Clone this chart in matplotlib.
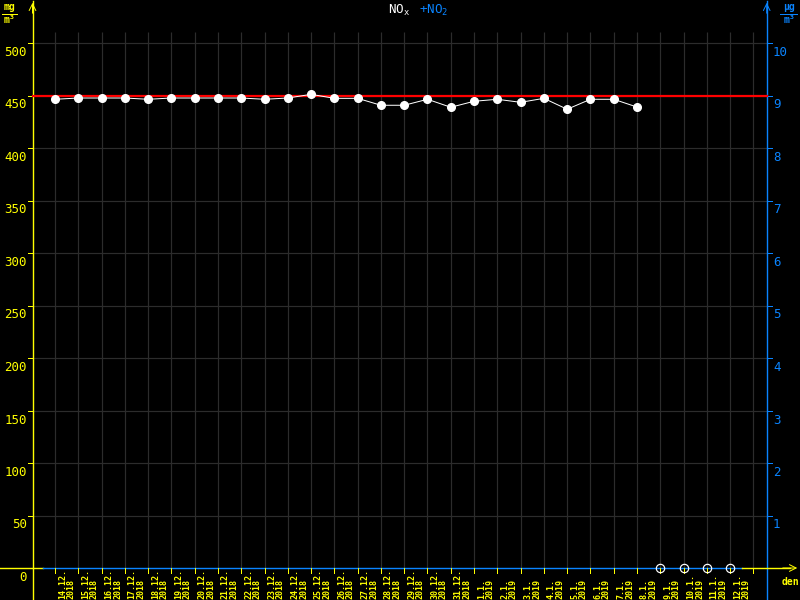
import matplotlib
matplotlib.use("Agg")
import matplotlib.pyplot as plt

# day labels (each label sits in the middle of its day interval)
days = ["14.12.", "15.12.", "16.12.", "17.12.", "18.12.", "19.12.", "20.12.",
        "21.12.", "22.12.", "23.12.", "24.12.", "25.12.", "26.12.", "27.12.",
        "28.12.", "29.12.", "30.12.", "31.12.", "1.1.", "2.1.", "3.1.", "4.1.",
        "5.1.", "6.1.", "7.1.", "8.1.", "9.1.", "10.1.", "11.1.", "12.1."]
years = ["2018"] * 18 + ["2019"] * 12

# daily NOx means (mg/m3), None = no data
nox = [446.4, 447.6, 447.6, 447.6, 446.4, 447.6, 447.6, 447.6, 447.6, 446.4,
       447.6, 451.1, 447.3, 447.3, 440.7, 440.7, 446.4, 438.8, 444.5, 446.4,
       443.5, 447.3, 436.9, 446.4, 446.4, 439.0, None, None, None, None]
nox_limit = 450

left_ticks = [0, 50, 100, 150, 200, 250, 300, 350, 400, 450, 500]
right_ticks = [1, 2, 3, 4, 5, 6, 7, 8, 9, 10]

YEL = "#ffff00"
BLUE = "#0a84ff"
GRID = "#2c2c2c"
MONO = "DejaVu Sans Mono"
PX = 0.72  # one pixel in points at dpi 100

# pixel helpers (figure is 800x600, origin top-left)
X0, DX = 55.0, 23.28
Y0, DY = 568.0, 1.05


def px_x(p):
    return (p - X0) / DX


def px_y(p):
    return (Y0 - p) / DY


fig = plt.figure(figsize=(8, 6), dpi=100, facecolor="black")
ax = fig.add_axes([0, 0, 1, 1])
ax.set_facecolor("black")
ax.set_xlim(px_x(0), px_x(800))
ax.set_ylim(px_y(600), px_y(0))
ax.axis("off")

xa = px_x(32.5)
xr = px_x(766.7)
ytop = px_y(32)

# grid
n = len(days)
ax.vlines(range(n + 1), 0, ytop, color=GRID, lw=PX * 1.2, zorder=1)
ax.hlines(left_ticks[1:], xa, xr, color=GRID, lw=PX * 1.2, zorder=1)

# axes lines
ax.plot([xa, xa], [px_y(600), px_y(1)], color=YEL, lw=PX * 1.4, zorder=3)
ax.plot([xr, xr], [px_y(600), px_y(1)], color=BLUE, lw=PX * 1.4, zorder=3)
ax.annotate("", xy=(xa, px_y(0)), xytext=(xa, px_y(16)),
            arrowprops=dict(arrowstyle="->", color=YEL, lw=PX, mutation_scale=12))
ax.annotate("", xy=(xr, px_y(0)), xytext=(xr, px_y(16)),
            arrowprops=dict(arrowstyle="->", color=BLUE, lw=PX, mutation_scale=12))
ax.plot([px_x(0), px_x(43)], [0, 0], color=YEL, lw=PX * 1.4, zorder=3)
ax.plot([px_x(43), px_x(742)], [0, 0], color=BLUE, lw=PX * 1.4, zorder=3)
ax.plot([px_x(742), px_x(790)], [0, 0], color=YEL, lw=PX * 1.4, zorder=3)
ax.annotate("", xy=(px_x(800), 0), xytext=(px_x(780), 0),
            arrowprops=dict(arrowstyle="->", color=YEL, lw=PX, mutation_scale=12))

# left ticks
for v in left_ticks:
    ax.plot([px_x(28), xa], [v, v], color=YEL, lw=PX, zorder=3)
    ax.text(px_x(27), v - 3 / DY, str(v), color=YEL, fontsize=9, family=MONO,
            ha="right", va="top")
# right ticks (same scale / 50)
for v in right_ticks:
    ax.plot([xr, px_x(772)], [v * 50, v * 50], color=BLUE, lw=PX, zorder=3)
    ax.text(px_x(773), v * 50 - 3 / DY, str(v), color=BLUE, fontsize=9,
            family=MONO, ha="left", va="top")
# bottom ticks and date labels
for k in range(n + 1):
    ax.plot([k, k], [0, px_y(573)], color=YEL, lw=PX, zorder=3)
for k in range(n):
    ax.text(k + 0.5, px_y(599), days[k] + "\n" + years[k], color=YEL,
            fontsize=6, family=MONO, rotation=90, ha="center", va="bottom",
            multialignment="left", linespacing=0.95, fontweight="bold")

# limit line
ax.plot([xa, xr], [nox_limit, nox_limit], color="#ff0000", lw=PX * 2.2, zorder=4)

# NOx series
kk = [k for k in range(n) if nox[k] is not None]
vv = [nox[k] for k in kk]
ax.plot(kk, vv, color="white", lw=PX, marker="o", ms=5.5, mfc="white",
        mec="white", zorder=5)
# days without data
miss = [k for k in range(n) if nox[k] is None]
ax.plot(miss, [0] * len(miss), ls="none", marker="o", ms=6, mfc="none",
        mec="white", mew=PX * 1.2, zorder=5)

# units
ax.text(px_x(9.5), px_y(12), "mg", color=YEL, fontsize=7, family=MONO,
        ha="center", va="bottom", fontweight="bold")
ax.plot([px_x(2), px_x(17)], [px_y(13.5), px_y(13.5)], color=YEL, lw=PX)
ax.text(px_x(9.5), px_y(15), "m³", color=YEL, fontsize=7, family=MONO,
        ha="center", va="top", fontweight="bold")
ax.text(px_x(789), px_y(12), "µg", color=BLUE, fontsize=7, family=MONO,
        ha="center", va="bottom", fontweight="bold")
ax.plot([px_x(780), px_x(797)], [px_y(13.5), px_y(13.5)], color=BLUE, lw=PX)
ax.text(px_x(789), px_y(15), "m³", color=BLUE, fontsize=7, family=MONO,
        ha="center", va="top", fontweight="bold")
ax.text(px_x(790), px_y(582), "den", color=YEL, fontsize=7, family=MONO,
        ha="center", va="center", fontweight="bold")

# title
ax.text(px_x(399), px_y(10), r"NO$_\mathregular{x}$", color="white",
        fontsize=9, family=MONO, ha="center", va="center")
ax.text(px_x(434), px_y(10), r"+NO$_\mathregular{2}$", color=BLUE,
        fontsize=9, family=MONO, ha="center", va="center")

fig.savefig("out.png", dpi=100, facecolor="black")
